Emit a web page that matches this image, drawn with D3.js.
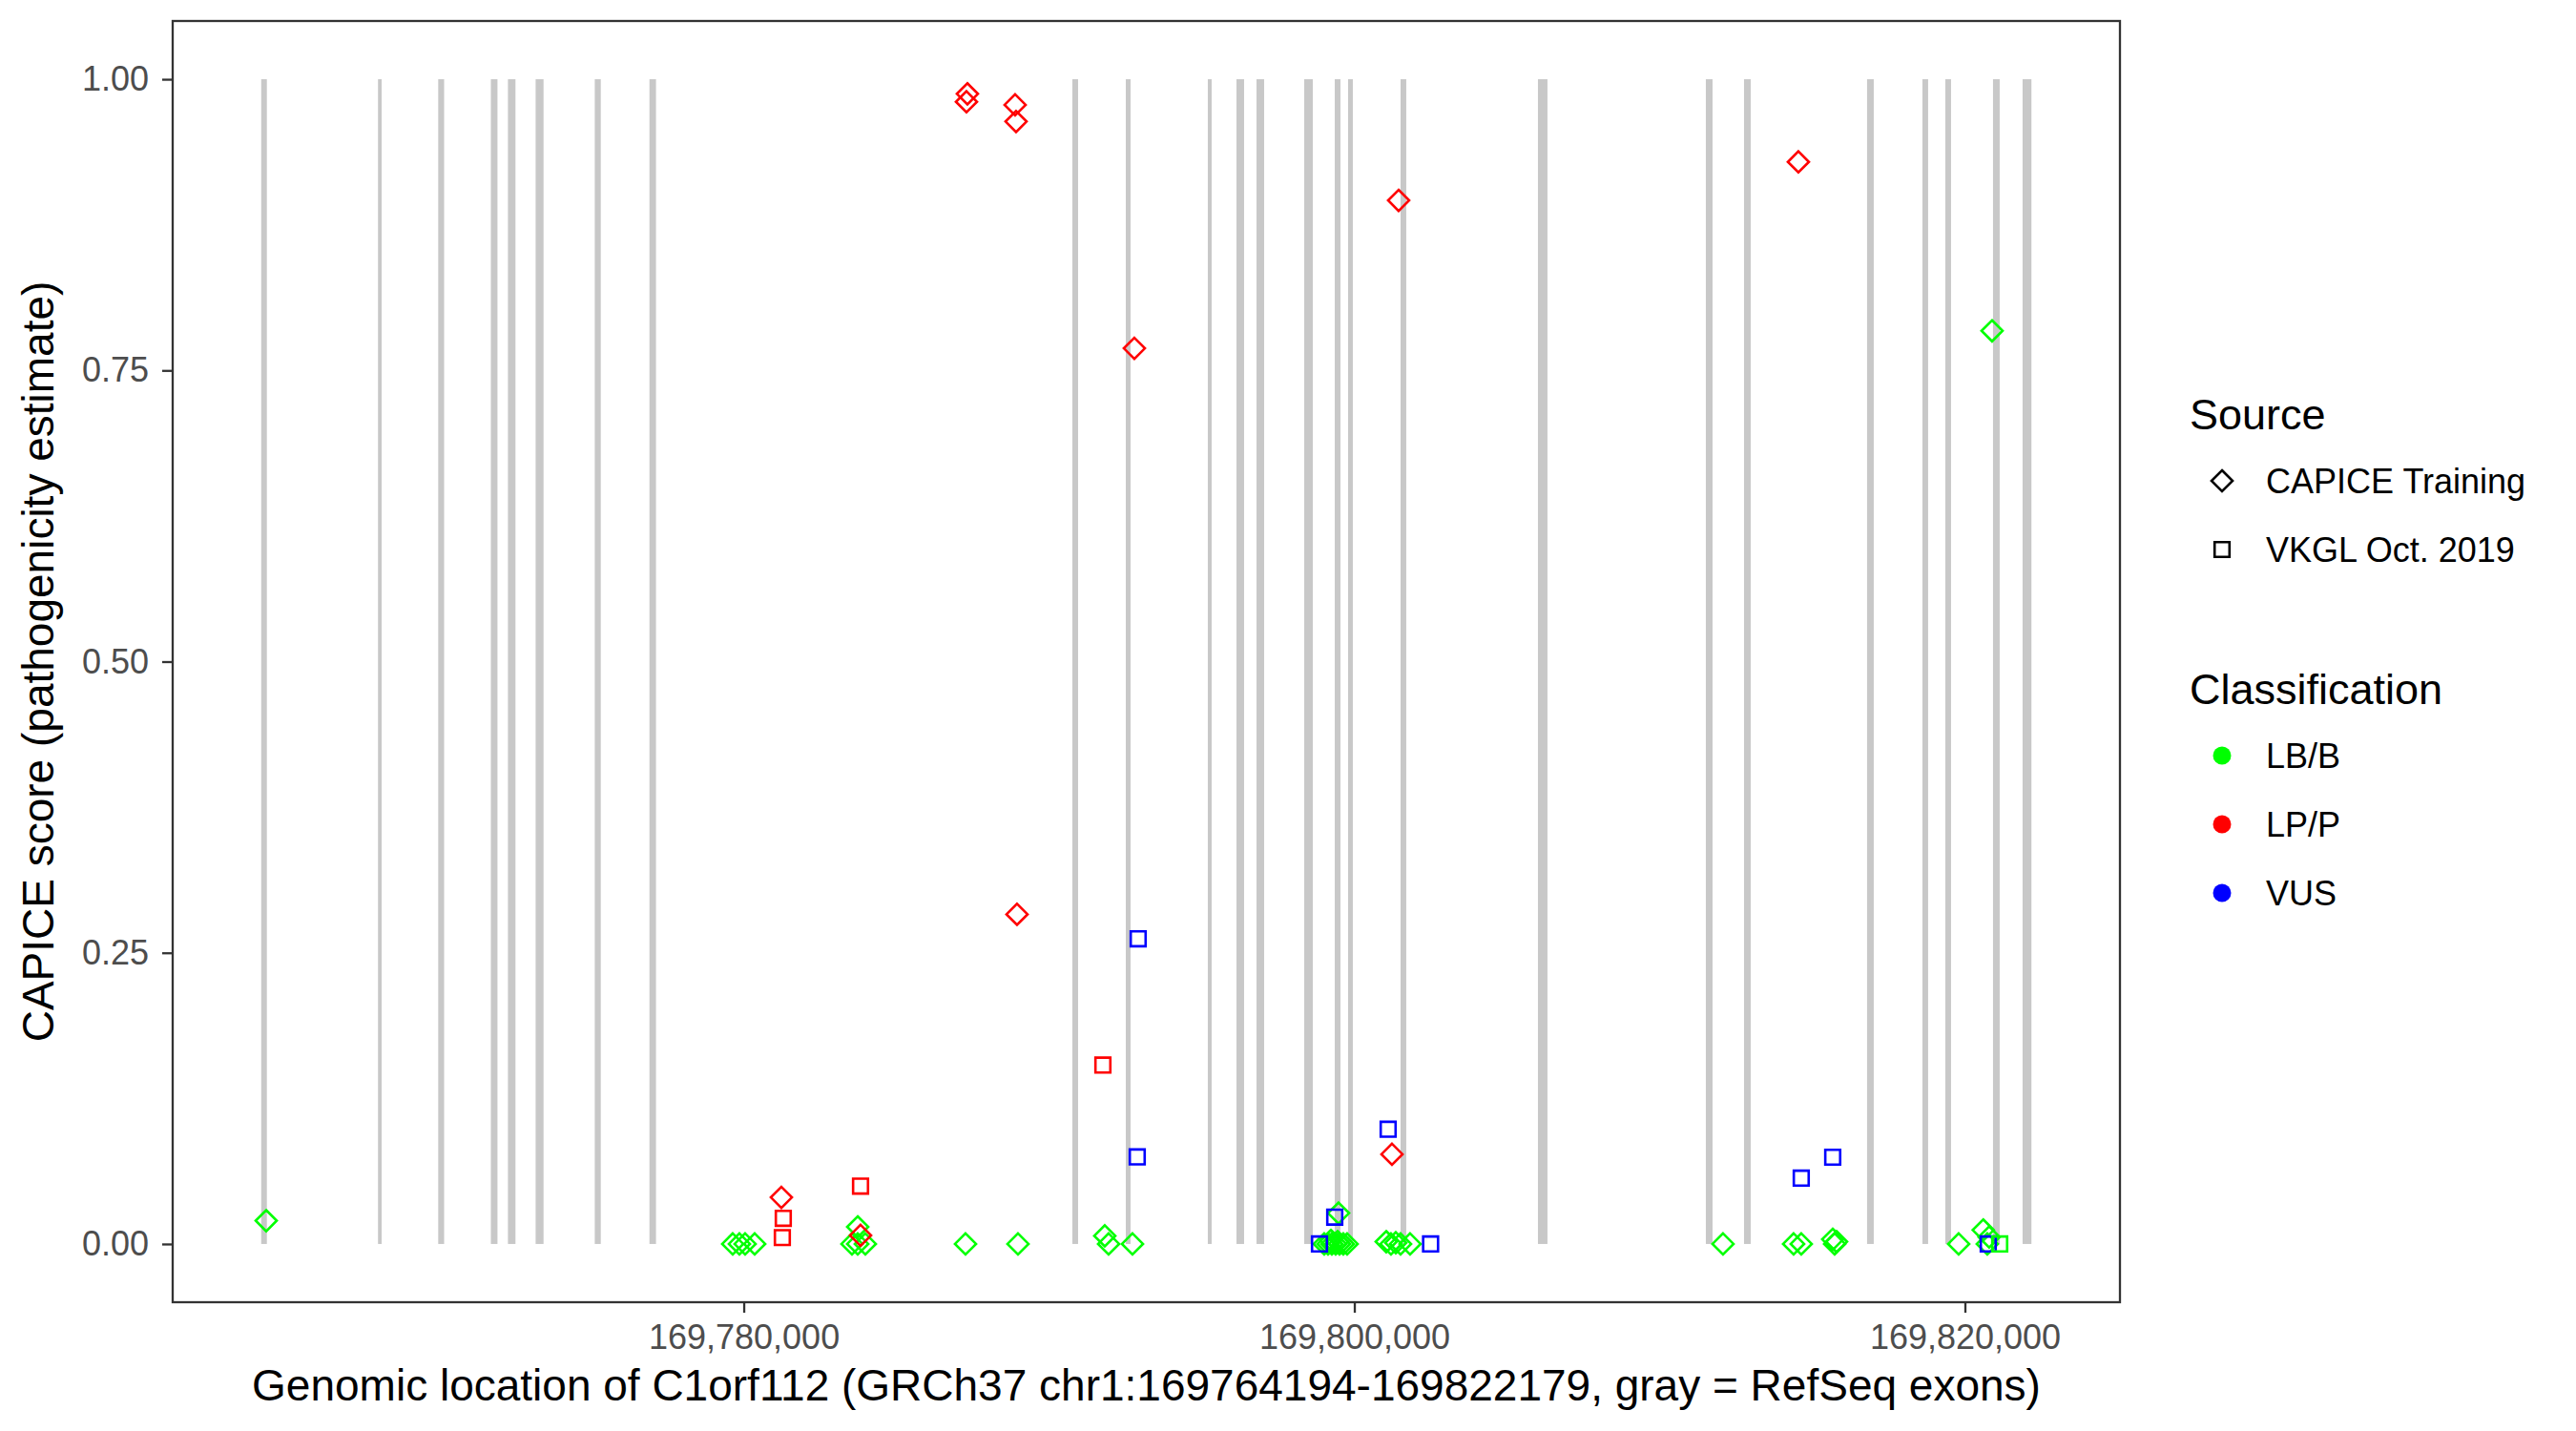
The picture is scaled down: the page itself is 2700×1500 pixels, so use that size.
<!DOCTYPE html>
<html>
<head>
<meta charset="utf-8">
<script src="https://cdn.jsdelivr.net/npm/d3@7"></script>
<style>
  body { margin: 0; background: #fff; }
  svg text { font-family: "Liberation Sans", Arial, sans-serif; }
</style>
</head>
<body>
<svg id="chart" width="2700" height="1500"></svg>
<script>
// exons of C1orf112 (RefSeq), start/end in bp
const exonStart = [169764194, 169768020, 169769992, 169771717, 169772276, 169773183, 169775120, 169776911,
  169790764, 169792514, 169795201, 169796139, 169796795, 169798358, 169799358, 169799795, 169801514,
  169806014, 169811514, 169812764, 169816795, 169818608, 169819358, 169820920, 169821889]
const exonEnd = [169764380, 169768139, 169770186, 169771933, 169772523, 169773442, 169775317, 169777126,
  169790951, 169792670, 169795326, 169796389, 169797045, 169798639, 169799545, 169799951, 169801701,
  169806326, 169811733, 169812983, 169817014, 169818795, 169819545, 169821139, 169822179]

// CAPICE training variants (diamonds)
const capicePos = [169764358, 169779639, 169779858, 169780045, 169780358, 169783733, 169783545, 169783733,
  169783983, 169787264, 169788983, 169791826, 169791951, 169792733, 169799483, 169799014, 169799139,
  169799264, 169799389, 169799514, 169799639, 169799764, 169799233, 169799452, 169801045, 169801201,
  169801358, 169801514, 169801826, 169812076, 169814389, 169814639, 169815670, 169815733, 169815795,
  169819795, 169820600, 169820795, 169820733, 169820889,
  169781233, 169783826, 169787326, 169787295, 169788889, 169788920, 169788951, 169792795, 169801451,
  169801233, 169814545]
const capiceScore = [0.020, 0, 0, 0, 0, 0.0147, 0, 0,
  0, 0, 0, 0.007, 0, 0, 0.0265, 0, 0,
  0, 0, 0, 0, 0, 0.003, 0.002, 0.002, 0,
  0.001, 0, 0, 0, 0, 0, 0.004, 0, 0.002,
  0, 0.012, 0.006, 0, 0.784,
  0.040, 0.0074, 0.9875, 0.9806, 0.978, 0.9637, 0.283, 0.769, 0.896,
  0.077, 0.929]
const capiceClass = [
  'LB/B', 'LB/B', 'LB/B', 'LB/B', 'LB/B', 'LB/B', 'LB/B', 'LB/B',
  'LB/B', 'LB/B', 'LB/B', 'LB/B', 'LB/B', 'LB/B', 'LB/B', 'LB/B', 'LB/B',
  'LB/B', 'LB/B', 'LB/B', 'LB/B', 'LB/B', 'LB/B', 'LB/B', 'LB/B', 'LB/B',
  'LB/B', 'LB/B', 'LB/B', 'LB/B', 'LB/B', 'LB/B', 'LB/B', 'LB/B', 'LB/B',
  'LB/B', 'LB/B', 'LB/B', 'LB/B', 'LB/B',
  'LP/P', 'LP/P', 'LP/P', 'LP/P', 'LP/P', 'LP/P', 'LP/P', 'LP/P', 'LP/P',
  'LP/P', 'LP/P']

// VKGL Oct. 2019 variants (squares)
const vkglPos = [169781295, 169781264, 169783826, 169791764,
  169792920, 169792889, 169801108, 169799358, 169798858, 169802498, 169814639, 169815670, 169820764,
  169821139]
const vkglScore = [0.022, 0.0055, 0.0497, 0.1536,
  0.262, 0.0748, 0.0985, 0.023, 0, 0, 0.0565, 0.0745, 0,
  0]
const vkglClass = ['LP/P', 'LP/P', 'LP/P', 'LP/P',
  'VUS', 'VUS', 'VUS', 'VUS', 'VUS', 'VUS', 'VUS', 'VUS', 'VUS',
  'LB/B']

const xTicks = [169780000, 169800000, 169820000]
const yTicks = [0, 0.25, 0.5, 0.75, 1]
const sourceLabels = ['CAPICE Training', 'VKGL Oct. 2019']
const classLabels = ['LB/B', 'LP/P', 'VUS']
const classColors = ['#00ff00', '#ff0000', '#0000ff']

const svg = d3.select('#chart')
const pL = 181, pR = 2222, pT = 22, pB = 1365 // panel edges

const geneStart = 169764194, geneEnd = 169822179
const pad = (geneEnd - geneStart) * 0.05 // ggplot default expansion
const x = d3.scaleLinear().domain([geneStart - pad, geneEnd + pad]).range([pL, pR])
const y = d3.scaleLinear().domain([-0.05, 1.05]).range([pB, pT])
const color = d3.scaleOrdinal(classLabels, classColors)

svg.append('rect').attr('width', 2700).attr('height', 1500).attr('fill', '#fff')

// exons as gray bars from 0 to 1
svg.append('g').selectAll('rect')
  .data(exonStart.map((s, i) => ({ s, e: exonEnd[i] })))
  .join('rect')
  .attr('x', d => x(d.s))
  .attr('width', d => Math.max(3, x(d.e) - x(d.s)))
  .attr('y', y(1))
  .attr('height', y(0) - y(1))
  .attr('fill', '#c8c8c8')

const side = 15.6 // marker side
const squarePath = `M${-side / 2},${-side / 2}h${side}v${side}h${-side}Z`
const dr = side / Math.SQRT2
const diamondPath = `M0,${-dr}L${dr},0L0,${dr}L${-dr},0Z`

const capice = capicePos.map((p, i) => ({ p, s: capiceScore[i], c: capiceClass[i] }))
const vkgl = vkglPos.map((p, i) => ({ p, s: vkglScore[i], c: vkglClass[i] }))

svg.append('g').selectAll('path')
  .data(capice)
  .join('path')
  .attr('d', diamondPath)
  .attr('transform', d => `translate(${x(d.p)},${y(d.s)})`)
  .attr('fill', 'none')
  .attr('stroke', d => color(d.c))
  .attr('stroke-width', 2.6)

svg.append('g').selectAll('path')
  .data(vkgl)
  .join('path')
  .attr('d', squarePath)
  .attr('transform', d => `translate(${x(d.p)},${y(d.s)})`)
  .attr('fill', 'none')
  .attr('stroke', d => color(d.c))
  .attr('stroke-width', 2.6)

// panel border
svg.append('rect')
  .attr('x', pL).attr('y', pT)
  .attr('width', pR - pL).attr('height', pB - pT)
  .attr('fill', 'none').attr('stroke', '#333333').attr('stroke-width', 2.3)

// axes
const xAxis = svg.append('g')
  .attr('transform', `translate(0,${pB})`)
  .call(d3.axisBottom(x).tickValues(xTicks).tickFormat(d3.format(',')).tickSize(11).tickPadding(12))
const yAxis = svg.append('g')
  .attr('transform', `translate(${pL},0)`)
  .call(d3.axisLeft(y).tickValues(yTicks).tickFormat(d3.format('.2f')).tickSize(11).tickPadding(14))

;[xAxis, yAxis].forEach(a => {
  a.select('.domain').remove()
  a.selectAll('.tick line').attr('stroke', '#333333').attr('stroke-width', 2.3)
  a.selectAll('.tick text').attr('fill', '#4d4d4d').style('font-size', '36px')
    .style('font-family', '"Liberation Sans", Arial, sans-serif')
})

// axis titles
svg.append('text')
  .attr('x', (pL + pR) / 2).attr('y', 1468)
  .attr('text-anchor', 'middle')
  .style('font-size', '46px')
  .text('Genomic location of C1orf112 (GRCh37 chr1:169764194-169822179, gray = RefSeq exons)')

svg.append('text')
  .attr('transform', `translate(56,${(pT + pB) / 2}) rotate(-90)`)
  .attr('text-anchor', 'middle')
  .style('font-size', '46px')
  .text('CAPICE score (pathogenicity estimate)')

// legends
const keyX = 2329, labelX = 2375
svg.append('text').attr('x', 2295).attr('y', 450).style('font-size', '45px').text('Source')
const srcShapes = [diamondPath, squarePath]
sourceLabels.forEach((lab, i) => {
  const cy = 504 + i * 72
  svg.append('path').attr('d', srcShapes[i])
    .attr('transform', `translate(${keyX},${cy})`)
    .attr('fill', 'none').attr('stroke', '#000').attr('stroke-width', 2.6)
  svg.append('text').attr('x', labelX).attr('y', cy).attr('dy', '0.35em')
    .style('font-size', '36px').text(lab)
})

svg.append('text').attr('x', 2295).attr('y', 738).style('font-size', '45px').text('Classification')
classLabels.forEach((lab, i) => {
  const cy = 792 + i * 72
  svg.append('circle').attr('cx', keyX).attr('cy', cy).attr('r', 9.5).attr('fill', color(lab))
  svg.append('text').attr('x', labelX).attr('y', cy).attr('dy', '0.35em')
    .style('font-size', '36px').text(lab)
})
</script>
</body>
</html>
